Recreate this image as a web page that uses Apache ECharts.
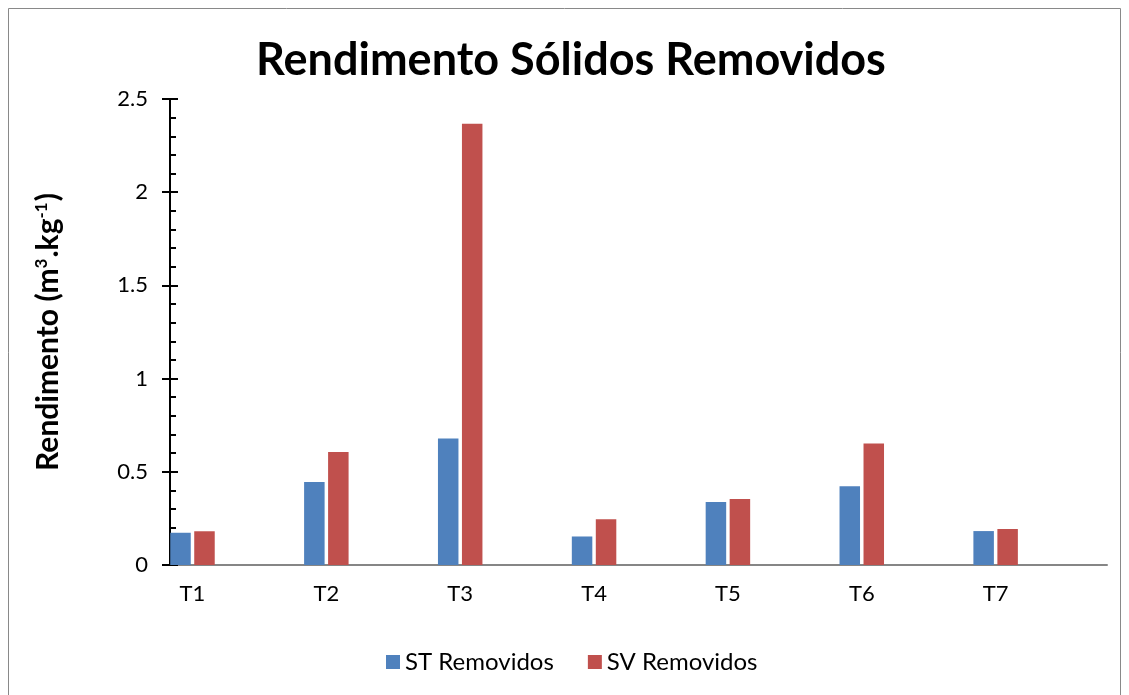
<!DOCTYPE html>
<html>
<head>
<meta charset="utf-8">
<script src="https://cdn.jsdelivr.net/npm/echarts@6/dist/echarts.min.js"></script>
<style>
    html, body { margin: 0; padding: 0; background: #fff; }
    #chart { width: 1129px; height: 695px; }
</style>
</head>
<body>
<div id="chart"></div>
<script>
    // dados
    const categories = ['T1', 'T2', 'T3', 'T4', 'T5', 'T6', 'T7'];
    const stRemovidos = [0.173, 0.445, 0.679, 0.153, 0.338, 0.423, 0.182];
    const svRemovidos = [0.181, 0.606, 2.367, 0.245, 0.354, 0.652, 0.193];
    const yTicks = [0, 0.5, 1, 1.5, 2, 2.5];

    const positions = categories.map((c, i) => i + 1);
    const font = 'Lato, "Open Sans", sans-serif';

    const myChart = echarts.init(document.getElementById('chart'));

    const option = {
        backgroundColor: '#fff',
        animation: false,
        textStyle: { fontFamily: font },
        graphic: [
            {
                type: 'rect',
                shape: { x: 8.5, y: 8.5, width: 1112, height: 700 },
                style: { fill: 'none', stroke: '#898989', lineWidth: 1 },
                silent: true,
            },
        ],
        title: {
            text: 'Rendimento Sólidos Removidos',
            left: 566,
            textAlign: 'center',
            top: 33,
            textStyle: { fontSize: 45, fontWeight: 'bold', color: '#000', fontFamily: font },
        },
        legend: {
            bottom: 21,
            left: 386,
            icon: 'rect',
            itemWidth: 14,
            itemHeight: 14,
            itemGap: 34,
            padding: 0,
            textStyle: { fontSize: 24, color: '#000', fontFamily: font },
            data: ['ST Removidos', 'SV Removidos'],
        },
        grid: { left: 170, right: 22, top: 99, bottom: 130, containLabel: false },
        xAxis: {
            type: 'value',
            min: 0.832,
            max: 7.832,
            splitLine: { show: false },
            axisTick: { show: false },
            axisLine: { show: true, onZero: true, lineStyle: { color: '#868686', width: 2 } },
            axisLabel: {
                customValues: positions,
                formatter: (v) => categories[Math.round(v) - 1] || '',
                fontSize: 22,
                color: '#000',
                margin: 18,
            },
        },
        yAxis: [
            {
                type: 'value',
                min: yTicks[0],
                max: yTicks[yTicks.length - 1],
                interval: 0.5,
                splitLine: { show: false },
                axisLine: { show: true, lineStyle: { color: '#000', width: 2 } },
                axisTick: { show: true, length: 8, lineStyle: { color: '#000', width: 2 } },
                axisLabel: { fontSize: 22, color: '#000', margin: 22 },
                name: '{a|Rendimento (m}{s|3}{a|.kg}{s|-1}{a|)}',
                nameLocation: 'middle',
                nameRotate: 90,
                nameGap: 107,
                nameTextStyle: {
                    rich: {
                        a: { fontSize: 30, fontWeight: 'bold', color: '#000', fontFamily: font },
                        s: { fontSize: 17, fontWeight: 'bold', color: '#000', fontFamily: font, verticalAlign: 'top', padding: [0, 1, 11, 0] },
                    },
                },
            },
            {
                // eixo auxiliar para os traços internos
                type: 'value',
                position: 'left',
                min: yTicks[0],
                max: yTicks[yTicks.length - 1],
                interval: 0.5,
                splitLine: { show: false },
                axisLine: { show: false },
                axisLabel: { show: false },
                axisTick: { show: true, inside: true, length: 8, lineStyle: { color: '#000', width: 2 } },
                minorTick: { show: true, splitNumber: 5, length: 6, lineStyle: { color: '#000', width: 2 } },
            },
        ],
        series: [
            {
                name: 'ST Removidos',
                type: 'bar',
                barWidth: 20.5,
                barGap: '17%',
                itemStyle: { color: '#4F81BD' },
                data: stRemovidos.map((v, i) => [positions[i], v]),
            },
            {
                name: 'SV Removidos',
                type: 'bar',
                barWidth: 20.5,
                barGap: '17%',
                itemStyle: { color: '#C0504D' },
                data: svRemovidos.map((v, i) => [positions[i], v]),
            },
        ],
    };

    myChart.setOption(option);
</script>
</body>
</html>
